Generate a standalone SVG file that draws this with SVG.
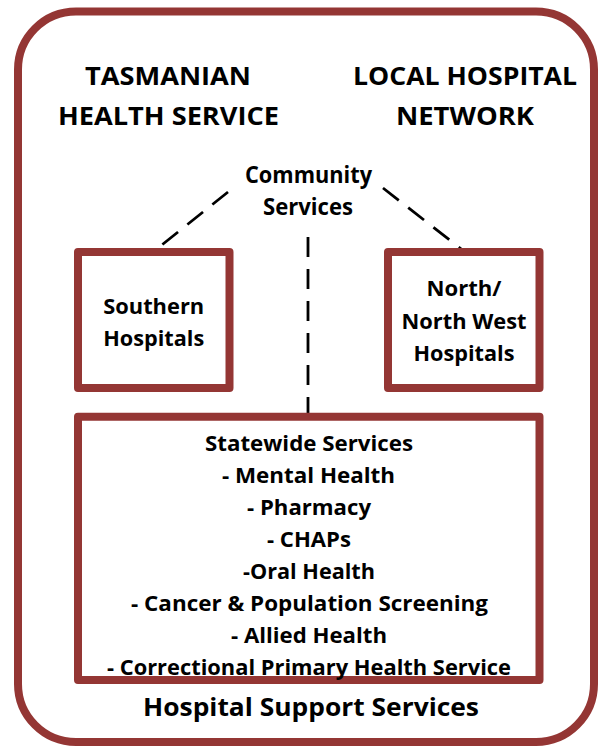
<svg xmlns="http://www.w3.org/2000/svg" width="598" height="746" viewBox="0 0 598 746">
<style>
.frame{fill:none;stroke:#943634;stroke-width:8}
.box{fill:#fff;stroke:#943634;stroke-width:8;stroke-linejoin:round}
.t{font-family:"Open Sans","Noto Sans","Liberation Sans",sans-serif;font-weight:bold;fill:#000;text-anchor:middle}
.title{font-size:25px}
.mid{font-size:23px}
.big{font-size:25.5px}
.item{font-size:21.5px}
.dash{fill:none;stroke:#000;stroke-width:2.8;stroke-dasharray:20 12}
</style>
<rect width="598" height="746" fill="#fff"/>
<g id="outer">
<rect class="frame" x="18" y="11.5" width="576" height="730.5" rx="58" ry="58"/>
<text class="t title" x="168" y="84.5" textLength="166" lengthAdjust="spacingAndGlyphs">TASMANIAN</text>
<text class="t title" x="168.5" y="125" textLength="221" lengthAdjust="spacingAndGlyphs">HEALTH SERVICE</text>
<text class="t title" x="465" y="84.5" textLength="224" lengthAdjust="spacingAndGlyphs">LOCAL HOSPITAL</text>
<text class="t title" x="465" y="125" textLength="138" lengthAdjust="spacingAndGlyphs">NETWORK</text>
<text class="t big" x="311" y="716" textLength="336" lengthAdjust="spacingAndGlyphs">Hospital Support Services</text>
</g>
<g id="connectors">
<line class="dash" x1="308" y1="237" x2="308" y2="418"/>
<line class="dash" x1="228" y1="192" x2="153" y2="252"/>
<line class="dash" x1="383" y1="188" x2="465" y2="252"/>
</g>
<g id="community">
<text class="t mid" x="308.5" y="183" textLength="127" lengthAdjust="spacingAndGlyphs">Community</text>
<text class="t mid" x="308" y="214.5" textLength="90" lengthAdjust="spacingAndGlyphs">Services</text>
</g>
<g id="southern">
<rect class="box" x="78" y="252" width="151.5" height="136"/>
<text class="t item" x="153.7" y="313.5" textLength="101" lengthAdjust="spacingAndGlyphs">Southern</text>
<text class="t item" x="153.7" y="345.5" textLength="101" lengthAdjust="spacingAndGlyphs">Hospitals</text>
</g>
<g id="north">
<rect class="box" x="388" y="252" width="151.5" height="136"/>
<text class="t item" x="464" y="296" textLength="75" lengthAdjust="spacingAndGlyphs">North/</text>
<text class="t item" x="464" y="329" textLength="125" lengthAdjust="spacingAndGlyphs">North West</text>
<text class="t item" x="464" y="361" textLength="101" lengthAdjust="spacingAndGlyphs">Hospitals</text>
</g>
<g id="statewide">
<path class="box" d="M78 680 V416.7 H539.5 V680 Z"/>
<text class="t item" x="309" y="451" textLength="208" lengthAdjust="spacingAndGlyphs">Statewide Services</text>
<text class="t item" x="308.5" y="483" textLength="173" lengthAdjust="spacingAndGlyphs">- Mental Health</text>
<text class="t item" x="309" y="515" textLength="124" lengthAdjust="spacingAndGlyphs">- Pharmacy</text>
<text class="t item" x="309" y="547" textLength="84" lengthAdjust="spacingAndGlyphs">- CHAPs</text>
<text class="t item" x="309" y="579" textLength="132" lengthAdjust="spacingAndGlyphs">-Oral Health</text>
<text class="t item" x="309.5" y="611" textLength="357" lengthAdjust="spacingAndGlyphs">- Cancer &amp; Population Screening</text>
<text class="t item" x="309" y="643" textLength="156" lengthAdjust="spacingAndGlyphs">- Allied Health</text>
<text class="t item" x="309" y="675" textLength="404" lengthAdjust="spacingAndGlyphs">- Correctional Primary Health Service</text>
</g>
</svg>
